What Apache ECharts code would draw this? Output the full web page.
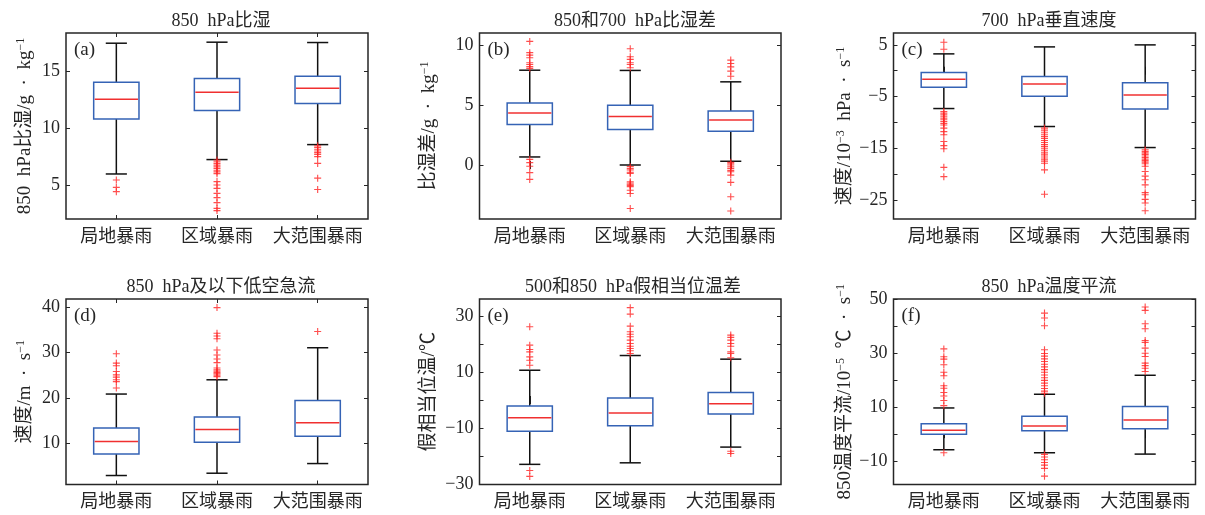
<!DOCTYPE html>
<html><head><meta charset="utf-8">
<script src="https://cdn.jsdelivr.net/npm/echarts@6/dist/echarts.min.js"></script>
<style>html,body{margin:0;padding:0;background:#fff}#c{width:1205px;height:515px}</style>
</head><body><div id="c"></div>
<script>
const categories = ['局地暴雨', '区域暴雨', '大范围暴雨'];
const panelTitles = ['850  hPa比湿', '850和700  hPa比湿差', '700  hPa垂直速度', '850  hPa及以下低空急流', '500和850  hPa假相当位温差', '850  hPa温度平流'];
const panelTags = ['(a)', '(b)', '(c)', '(d)', '(e)', '(f)'];
const yNames = [
  '850  hPa比湿/g  ·  kg{sup|−1}',
  '比湿差/g  ·  kg{sup|−1}',
  '速度/10{sup|−3}  hPa  ·  s{sup|−1}',
  '速度/m  ·  s{sup|−1}',
  '假相当位温/℃',
  '850温度平流/10{sup|−5}  ℃  ·  s{sup|−1}'
];
// box stats: [lower whisker, Q1, median, Q3, upper whisker]
const boxA = [[5.97, 10.82, 12.56, 14.06, 17.5], [7.24, 11.56, 13.18, 14.38, 17.59], [8.56, 12.18, 13.53, 14.59, 17.56]];
const boxB = [[0.67, 3.38, 4.33, 5.17, 7.9], [0.0, 2.96, 4.05, 4.97, 7.88], [0.31, 2.82, 3.74, 4.5, 6.93]];
const boxC = [[-7.32, -3.19, -1.65, -0.35, 3.26], [-10.8, -4.94, -2.55, -1.13, 4.61], [-14.87, -7.39, -4.68, -2.35, 5.0]];
const boxD = [[2.79, 7.58, 10.3, 13.32, 20.84], [3.3, 10.15, 13.0, 15.75, 24.0], [5.44, 11.48, 14.5, 19.4, 31.1]];
const boxE = [[-23.0, -11.2, -6.32, -2.14, 10.64], [-22.45, -9.2, -4.65, 0.73, 15.9], [-16.83, -5.0, -1.3, 2.64, 14.6]];
const boxF = [[-5.78, -0.06, 1.43, 3.91, 9.75], [-6.9, 1.3, 3.04, 6.65, 14.84], [-7.4, 2.05, 5.28, 10.25, 21.9]];
// outliers per category
const outA = [[5.44, 4.79, 4.41],
  [7.2, 7.05, 6.9, 6.75, 6.6, 6.45, 6.3, 6.15, 6.0, 5.3, 5.0, 4.7, 4.26, 3.88, 3.44, 2.94, 2.74],
  [8.45, 8.3, 8.15, 8.0, 7.85, 7.7, 7.5, 6.9, 5.6, 4.6]];
const outB = [[10.3, 9.36, 9.16, 8.94, 8.52, 8.38, 8.2, 8.05, 0.47, 0.2, -0.1, -0.64, -1.2],
  [9.69, 9.02, 8.8, 8.52, 8.38, 8.1, -0.14, -0.3, -0.42, -0.6, -0.7, -1.4, -1.5, -1.6, -1.7, -1.8, -2.1, -2.37, -3.63],
  [8.74, 8.46, 8.18, 7.82, 7.4, 0.22, 0.1, 0, -0.15, -0.28, -0.45, -0.56, -0.84, -1.45, -2.65, -3.83]];
const outC = [[5.5, 4.16, -7.9, -8.2, -8.55, -8.9, -9.2, -9.5, -9.84, -10.2, -10.5, -11.1, -11.8, -12.4, -13.7, -14.5, -15.1, -18.7, -20.5],
  [-11.1, -11.5, -11.9, -12.3, -12.7, -13.1, -13.5, -13.9, -14.3, -14.7, -15.1, -15.5, -15.9, -16.3, -16.7, -17.1, -17.5, -17.9, -19.2, -23.9],
  [-15.3, -15.6, -15.9, -16.2, -16.5, -16.8, -17.1, -17.4, -17.7, -18.0, -18.5, -19.5, -20.4, -21.1, -22.1, -23.6, -24.0, -24.9, -25.6, -27.1]];
const outD = [[29.76, 27.7, 27.1, 25.85, 25.1, 24.6, 24.0, 23.6, 22.17],
  [40.0, 34.3, 33.7, 33.1, 30.6, 29.5, 28.6, 27.8, 26.6, 26.2, 25.9, 25.6, 25.3, 25.0, 24.7],
  [34.7]];
const outE = [[26.2, 19.6, 18.05, 17.2, 15.4, 14.2, 12.4, -25.2, -27.3],
  [33.0, 30.7, 26.4, 24.4, 23.5, 22.6, 21.4, 20.2, 19.2, 18.4, 17.6, 16.6],
  [23.2, 22.4, 21.4, 20.2, 19.2, 17.2, 16.6, 15.1, -18.3, -19.1]];
const outF = [[31.7, 28.8, 27.9, 25.8, 23.0, 21.7, 18.0, 17.1, 15.5, 14.2, 12.5, 10.6, -6.9],
  [45.0, 43.2, 40.3, 31.4, 30.0, 29.0, 28.0, 27.0, 26.0, 25.0, 24.0, 23.0, 22.0, 21.0, 20.0, 19.0, 18.0, 17.0, 16.0, 15.2, -7.5, -8.5, -9.5, -10.5, -11.5, -12.7, -15.6],
  [47.3, 46.0, 41.05, 39.2, 34.8, 34.1, 32.0, 30.1, 28.9, 26.4, 25.5, 24.5, 23.3]];
// axis ranges and ticks
const yMins = [2, -4.5, -28.7, 0.8, -30.2, -18.7];
const yMaxs = [18.4, 11, 7.3, 41.9, 36.1, 50.25];
const yTicks = [[5, 10, 15], [0, 5, 10], [-25, -20, -15, -10, -5, 0, 5], [10, 20, 30, 40], [-30, -20, -10, 0, 10, 20, 30], [-10, 0, 10, 20, 30, 40, 50]];
const yLabels = [[5, 10, 15], [0, 5, 10], [-25, -15, -5, 5], [10, 20, 30, 40], [-30, -10, 10, 30], [-10, 10, 30, 50]];

const boxes = [boxA, boxB, boxC, boxD, boxE, boxF];
const outs = [outA, outB, outC, outD, outE, outF];

const FONT = "'Liberation Serif', 'Noto Sans CJK SC', serif";
const TXT = '#262626';
const grids = [
  {left: 66, top: 33, width: 302, height: 186},
  {left: 479.5, top: 33, width: 301.5, height: 186},
  {left: 893.5, top: 33, width: 302, height: 186},
  {left: 66, top: 299, width: 302, height: 185.5},
  {left: 479.5, top: 299, width: 301.5, height: 185.5},
  {left: 893.5, top: 299, width: 302, height: 185.5}
];
const nameGaps = [30, 40, 37, 30, 40, 37];
const titlePos = [[216, 7], [630, 7], [1044, 7], [216, 273], [628, 273], [1044, 273]];

const plusPath = 'path://M0,4.2H10V5.8H0Z M4.2,0H5.8V10H4.2Z';

function renderBox(params, api) {
  const x = api.value(0);
  const lo = api.coord([x, api.value(1)]);
  const q1 = api.coord([x, api.value(2)]);
  const md = api.coord([x, api.value(3)]);
  const q3 = api.coord([x, api.value(4)]);
  const hi = api.coord([x, api.value(5)]);
  const band = api.size([1, 0])[0];
  const bw = band * 0.45, cw = band * 0.21;
  const cx = lo[0];
  const blk = {stroke: '#111', lineWidth: 1.5};
  return {type: 'group', children: [
    {type: 'line', shape: {x1: cx, y1: lo[1], x2: cx, y2: q1[1]}, style: blk},
    {type: 'line', shape: {x1: cx, y1: q3[1], x2: cx, y2: hi[1]}, style: blk},
    {type: 'line', shape: {x1: cx - cw / 2, y1: lo[1], x2: cx + cw / 2, y2: lo[1]}, style: blk},
    {type: 'line', shape: {x1: cx - cw / 2, y1: hi[1], x2: cx + cw / 2, y2: hi[1]}, style: blk},
    {type: 'rect', shape: {x: cx - bw / 2, y: q3[1], width: bw, height: q1[1] - q3[1]}, style: {fill: '#fff', stroke: '#3563b5', lineWidth: 1.5}},
    {type: 'line', shape: {x1: cx - bw / 2 + 1, y1: md[1], x2: cx + bw / 2 - 1, y2: md[1]}, style: {stroke: '#f03030', lineWidth: 1.5}}
  ]};
}

const option = {
  animation: false,
  backgroundColor: '#fff',
  textStyle: {fontFamily: FONT, color: TXT},
  title: panelTitles.map((t, i) => ({text: t, left: titlePos[i][0], top: titlePos[i][1], textAlign: 'center',
    textStyle: {fontFamily: FONT, fontSize: 18, fontWeight: 'normal', color: TXT}})),
  grid: grids.map(g => Object.assign({show: true, borderColor: '#262626', borderWidth: 1.5, backgroundColor: '#fff'}, g)),
  graphic: panelTags.map((t, i) => ({type: 'text', left: grids[i].left + 8, top: grids[i].top + 8,
    style: {text: t, fontFamily: FONT, fontSize: 19, fill: TXT}})),
  xAxis: [],
  yAxis: [],
  series: []
};

for (let i = 0; i < 6; i++) {
  option.xAxis.push({type: 'category', gridIndex: i, data: categories, position: 'bottom',
    axisLine: {show: false}, axisTick: {show: true, inside: true, alignWithLabel: true, length: 4, lineStyle: {color: '#262626'}},
    axisLabel: {interval: 0, fontFamily: FONT, fontSize: 18, color: TXT, margin: 9}, splitLine: {show: false}});
  option.yAxis.push({type: 'value', gridIndex: i, min: yMins[i], max: yMaxs[i], position: 'left',
    name: yNames[i], nameLocation: 'middle', nameGap: nameGaps[i], nameRotate: 90,
    nameTextStyle: {fontFamily: FONT, fontSize: 19, color: TXT, lineHeight: 21,
      rich: {sup: {fontFamily: FONT, fontSize: 12, color: TXT, verticalAlign: 'top', lineHeight: 10}}},
    axisLine: {show: false},
    axisTick: {show: true, inside: true, length: 4, customValues: yTicks[i], lineStyle: {color: '#262626'}},
    axisLabel: {fontFamily: FONT, fontSize: 18, color: TXT, margin: 6, customValues: yLabels[i],
      formatter: v => String(v).replace('-', '−')},
    splitLine: {show: false}});
}
for (let i = 0; i < 6; i++) {
  option.xAxis.push({type: 'category', gridIndex: i, data: categories, position: 'top',
    axisLine: {show: false}, axisTick: {show: true, inside: true, alignWithLabel: true, length: 4, lineStyle: {color: '#262626'}},
    axisLabel: {show: false}, splitLine: {show: false}});
  option.yAxis.push({type: 'value', gridIndex: i, min: yMins[i], max: yMaxs[i], position: 'right',
    axisLine: {show: false},
    axisTick: {show: true, inside: true, length: 4, customValues: yTicks[i], lineStyle: {color: '#262626'}},
    axisLabel: {show: false}, splitLine: {show: false}});
}
for (let i = 0; i < 6; i++) {
  option.series.push({type: 'custom', xAxisIndex: i, yAxisIndex: i, renderItem: renderBox,
    encode: {x: 0, y: [1, 2, 3, 4, 5]},
    data: boxes[i].map((b, k) => [k].concat(b)), z: 2});
  const pts = [];
  outs[i].forEach((arr, k) => arr.forEach(v => pts.push([k, v])));
  option.series.push({type: 'scatter', xAxisIndex: i, yAxisIndex: i, data: pts,
    symbol: plusPath, symbolSize: 7, itemStyle: {color: '#f22'}, z: 3});
}

const chart = echarts.init(document.getElementById('c'), null, {renderer: 'canvas'});
chart.setOption(option);
</script>
</body></html>
